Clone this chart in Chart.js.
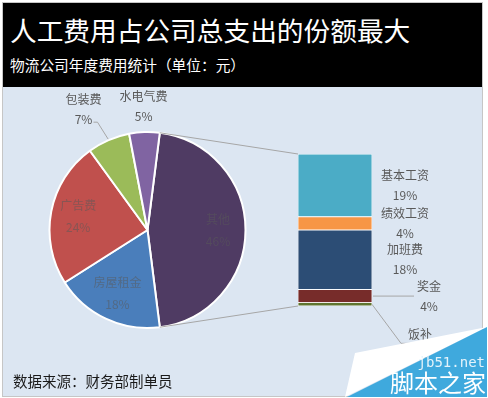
<!DOCTYPE html>
<html>
<head>
<meta charset="utf-8">
<script src="https://cdn.jsdelivr.net/npm/chart.js@4.4.1/dist/chart.umd.min.js"></script>
<style>
    body { margin: 0; width: 488px; height: 398px; background: #fff; overflow: hidden; font-family: "Noto Sans CJK SC", sans-serif; }
    #box { position: absolute; left: 2px; top: 2px; width: 479px; height: 393px; border: 1px solid #c6c6c6; background: #dce6f2; }
    #head { position: absolute; left: 0; top: 0; width: 479px; height: 84px; background: #000; color: #fff; }
    #title { position: absolute; left: 7px; top: 12px; font-size: 26.7px; line-height: 30px; white-space: nowrap; }
    #subtitle { position: absolute; left: 7px; top: 53px; font-size: 14.7px; line-height: 18px; white-space: nowrap; }
    #plot { position: absolute; left: 0; top: 84px; width: 479px; height: 309px; }
    #plot canvas { position: absolute; left: 0; top: 0; }
    #source { position: absolute; left: 10px; top: 285px; font-size: 14.5px; line-height: 18px; color: #1a1a1a; white-space: nowrap; }
    #mark { position: absolute; left: 0; top: 0; }
</style>
</head>
<body>
<div id="box">
    <div id="head">
        <div id="title">人工费用占公司总支出的份额最大</div>
        <div id="subtitle">物流公司年度费用统计（单位：元）</div>
    </div>
    <div id="plot">
        <canvas id="pieChart" width="479" height="308"></canvas>
        <canvas id="barChart" width="479" height="308"></canvas>
        <div id="source">数据来源：财务部制单员</div>
    </div>
</div>
<svg id="mark" width="488" height="398">
    <polygon points="355,353 487,327 345,397" fill="#ffffff"/>
    <polygon points="487,327 487,397 347,397" fill="#3fa9dd"/>
    <text x="485" y="367" text-anchor="end" font-family="DejaVu Sans Mono" font-size="14" fill="#e4f3fb">jb51.net</text>
    <text x="486" y="392" text-anchor="end" font-family="Noto Sans CJK SC" font-size="24" fill="#ffffff">脚本之家</text>
</svg>

<script>
// Pie data (main pie, clockwise from the split slice)
const pieLabels = ['其他', '房屋租金', '广告费', '包装费', '水电气费'];
const pieValues = [46, 18, 24, 7, 5];
const pieColors = ['#4f3b63', '#4a7ebb', '#c0504d', '#9bbb59', '#8064a2'];

// Breakdown of "其他" (top to bottom in the bar)
const barLabels = ['基本工资', '绩效工资', '加班费', '奖金', '饭补'];
const barValues = [19, 4, 18, 4, 1];
const barColors = ['#4bacc6', '#f79646', '#2c4d75', '#772c2a', '#5f7530'];

Chart.defaults.font.family = '"Noto Sans CJK SC", sans-serif';

const labelColor = '#595959';
const lineColor = '#a6a6a6';

// where each pie label goes
const pieLabelPlace = [
    { inside: 0.72 },
    { inside: 0.72 },
    { inside: 0.72 },
    { out: 38, dx: -10, dy: 4, leader: true },
    { out: 26, dx: 0, dy: 0 }
];

// where each bar label goes (relative to segment right edge / centre)
const barLabelPlace = [
    { dx: 33, dy: 0 },
    { dx: 33, dy: 0 },
    { dx: 33, dy: 0 },
    { dx: 57, dy: 0, leader: 'flat' },
    { dx: 48, dy: 40, leader: 'bent' }
];

const pieLabelPlugin = {
    id: 'pieLabels',
    afterDatasetsDraw(chart) {
        const ctx = chart.ctx;
        const arcs = chart.getDatasetMeta(0).data;
        ctx.save();
        ctx.font = '12px "Noto Sans CJK SC"';
        ctx.textAlign = 'center';
        ctx.textBaseline = 'middle';
        arcs.forEach((arc, i) => {
            const p = arc.getProps(['x', 'y', 'startAngle', 'endAngle', 'outerRadius'], true);
            const mid = (p.startAngle + p.endAngle) / 2;
            const place = pieLabelPlace[i];
            const name = pieLabels[i];
            const pct = pieValues[i] + '%';
            if (place.inside) {
                const d = p.outerRadius * place.inside;
                const lx = p.x + Math.cos(mid) * d;
                const ly = p.y + Math.sin(mid) * d;
                ctx.fillStyle = 'rgba(90,90,90,0.55)';
                ctx.fillText(name, lx, ly - 11);
                ctx.fillText(pct, lx, ly + 11);
            } else {
                const d = p.outerRadius + place.out;
                const lx = p.x + Math.cos(mid) * d + place.dx;
                const ly = p.y + Math.sin(mid) * d + place.dy;
                ctx.fillStyle = labelColor;
                ctx.fillText(name, lx, ly - 10);
                ctx.fillText(pct, lx, ly + 10);
                if (place.leader) {
                    ctx.strokeStyle = lineColor;
                    ctx.lineWidth = 1;
                    ctx.beginPath();
                    ctx.moveTo(p.x + Math.cos(mid) * (p.outerRadius + 1), p.y + Math.sin(mid) * (p.outerRadius + 1));
                    ctx.lineTo(lx + 14, ly + 13);
                    ctx.lineTo(lx + 10, ly + 13);
                    ctx.stroke();
                }
            }
        });
        ctx.restore();
    }
};

const pieChart = new Chart(document.getElementById('pieChart'), {
    type: 'pie',
    data: {
        labels: pieLabels,
        datasets: [{
            data: pieValues,
            backgroundColor: pieColors,
            borderColor: '#ffffff',
            borderWidth: 2
        }]
    },
    options: {
        responsive: false,
        animation: false,
        events: [],
        // centre the split slice on 3 o'clock
        rotation: 90 - 360 * pieValues[0] / 100 / 2,
        layout: { padding: { left: 45.5, top: 44, right: 235.5, bottom: 66 } },
        plugins: { legend: { display: false }, tooltip: { enabled: false } }
    },
    plugins: [pieLabelPlugin]
});

// bar segments stack bottom-up, so feed them reversed
const stackOrder = barLabels.map((_, i) => i).reverse();

const barPlugin = {
    id: 'barExtras',
    beforeDatasetsDraw(chart) {
        // connector lines from the split slice to the bar
        const ctx = chart.ctx;
        const arc = pieChart.getDatasetMeta(0).data[0].getProps(['x', 'y', 'startAngle', 'endAngle', 'outerRadius'], true);
        const topEl = chart.getDatasetMeta(stackOrder.length - 1).data[0];
        const botEl = chart.getDatasetMeta(0).data[0];
        const left = topEl.x - topEl.width / 2;
        ctx.save();
        ctx.strokeStyle = lineColor;
        ctx.lineWidth = 1;
        ctx.beginPath();
        ctx.moveTo(arc.x + Math.cos(arc.startAngle) * arc.outerRadius, arc.y + Math.sin(arc.startAngle) * arc.outerRadius);
        ctx.lineTo(left, Math.min(topEl.y, topEl.base));
        ctx.moveTo(arc.x + Math.cos(arc.endAngle) * arc.outerRadius, arc.y + Math.sin(arc.endAngle) * arc.outerRadius);
        ctx.lineTo(left, Math.max(botEl.y, botEl.base));
        ctx.stroke();
        ctx.restore();
    },
    afterDatasetsDraw(chart) {
        const ctx = chart.ctx;
        ctx.save();
        ctx.font = '12px "Noto Sans CJK SC"';
        ctx.textAlign = 'center';
        ctx.textBaseline = 'middle';
        chart.data.datasets.forEach((ds, di) => {
            const i = stackOrder[di];
            const el = chart.getDatasetMeta(di).data[0];
            const right = el.x + el.width / 2;
            const cy = (el.y + el.base) / 2;
            const place = barLabelPlace[i];
            const lx = right + place.dx;
            const ly = cy + place.dy;
            ctx.strokeStyle = lineColor;
            ctx.lineWidth = 1;
            if (place.leader === 'flat') {
                ctx.beginPath();
                ctx.moveTo(right + 1, cy);
                ctx.lineTo(right + 42, cy);
                ctx.stroke();
            } else if (place.leader === 'bent') {
                ctx.beginPath();
                ctx.moveTo(right, cy);
                ctx.lineTo(right + 29, cy + 39);
                ctx.lineTo(right + 40, cy + 39);
                ctx.stroke();
            }
            ctx.fillStyle = labelColor;
            ctx.fillText(barLabels[i], lx, ly - 10);
            ctx.fillText(barValues[i] + '%', lx, ly + 10);
        });
        ctx.restore();
    }
};

const barChart = new Chart(document.getElementById('barChart'), {
    type: 'bar',
    data: {
        labels: ['其他'],
        datasets: stackOrder.map(i => ({
            label: barLabels[i],
            data: [barValues[i]],
            backgroundColor: barColors[i],
            borderColor: '#ffffff',
            borderWidth: 0.75,
            borderSkipped: false,
            barPercentage: 1,
            categoryPercentage: 1
        }))
    },
    options: {
        responsive: false,
        animation: false,
        events: [],
        layout: { padding: { left: 295, top: 67, right: 110, bottom: 89 } },
        scales: {
            x: { stacked: true, display: false },
            y: { stacked: true, display: false, min: 0, max: pieValues[0] }
        },
        plugins: { legend: { display: false }, tooltip: { enabled: false } }
    },
    plugins: [barPlugin]
});
</script>
</body>
</html>
